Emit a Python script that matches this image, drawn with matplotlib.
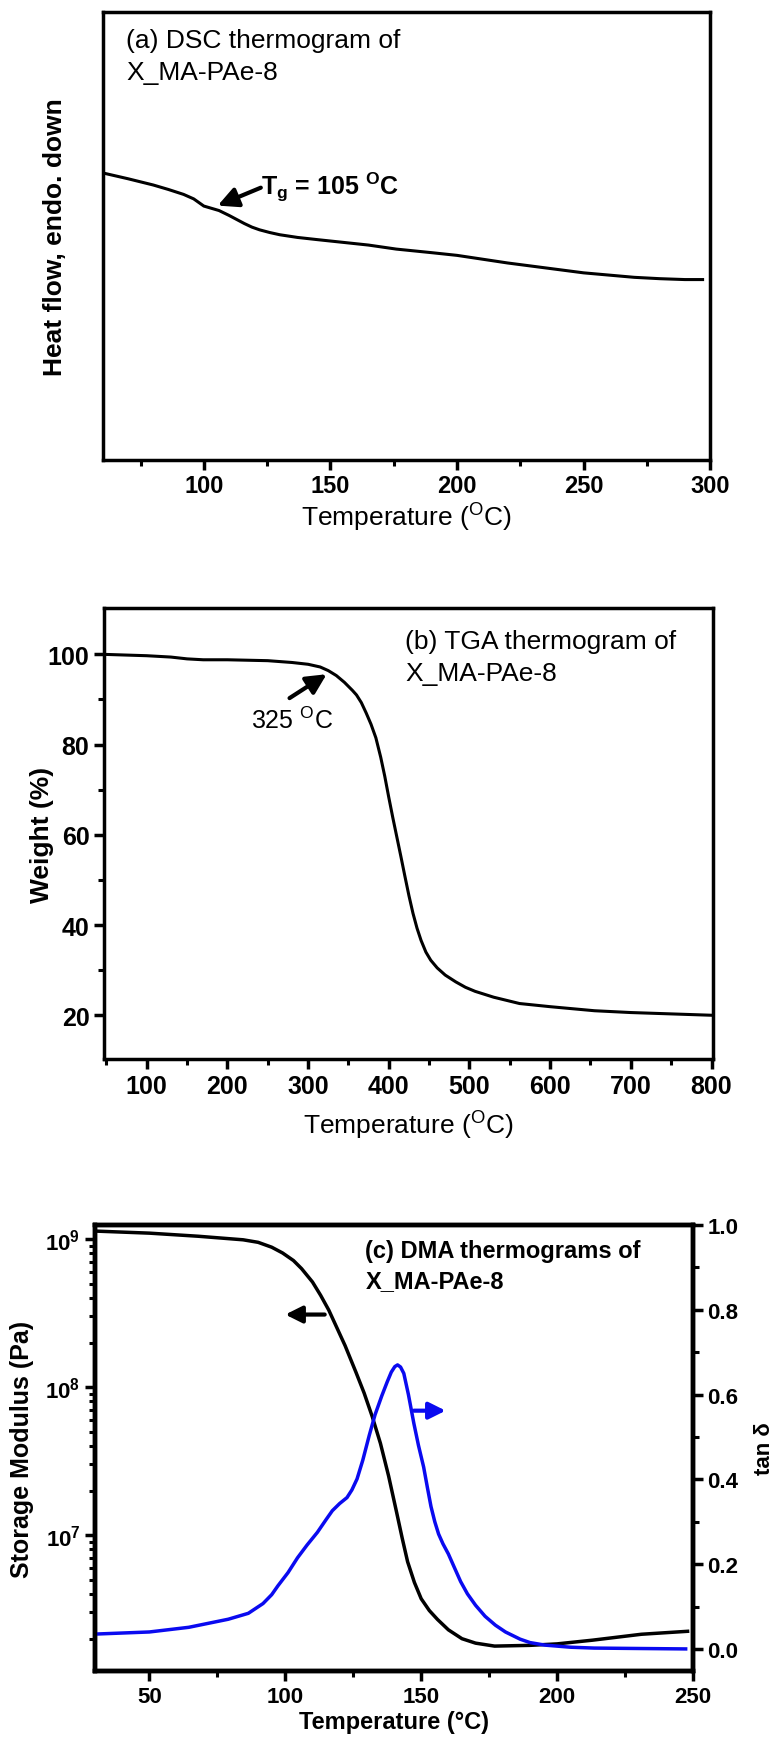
import matplotlib
matplotlib.use('Agg')
import numpy as np
from matplotlib import pyplot as plt
from matplotlib.ticker import MultipleLocator, FixedLocator, LogLocator, NullFormatter

# === data ===
# (a) DSC: temperature (C) and heat flow (arbitrary units, 0-1 of the frame)
dsc_temp = [60, 70, 80, 86, 92, 96, 98, 100, 103, 106, 110, 113, 116, 119, 122, 126, 130,
            137, 145, 150, 165, 176, 190, 200, 210, 220, 235, 250, 262, 270, 280, 290, 297]
dsc_flow = [0.640, 0.627, 0.613, 0.603, 0.592, 0.582, 0.574, 0.566, 0.561, 0.556, 0.545,
            0.536, 0.527, 0.519, 0.513, 0.507, 0.502, 0.496, 0.491, 0.488, 0.479, 0.470,
            0.462, 0.456, 0.4475, 0.439, 0.428, 0.417, 0.411, 0.407, 0.404, 0.402, 0.402]

# (b) TGA: temperature (C) and weight (%)
tga_temp = [47, 100, 130, 150, 170, 200, 250, 280, 300, 315, 325, 335, 345, 355, 360, 366,
            372, 378, 384, 390, 395, 400, 405, 410, 415, 420, 425, 430, 435, 440, 446, 452,
            460, 470, 483, 495, 507, 530, 562, 600, 655, 700, 750, 800]
tga_weight = [100, 99.7, 99.4, 99.0, 98.8, 98.8, 98.6, 98.2, 97.8, 97.2, 96.4, 95.3, 93.8,
              92.0, 91.0, 89.3, 87.0, 84.5, 81.5, 77.2, 73.0, 68.3, 63.8, 59.5, 55.2, 50.8,
              46.5, 42.6, 39.3, 36.6, 34.0, 32.2, 30.5, 28.9, 27.4, 26.2, 25.3, 24.0, 22.6,
              21.9, 21.0, 20.6, 20.3, 20.0]

# (c) DMA: storage modulus (log10 Pa) and tan delta
dma_temp_e = [30, 50, 68, 84.5, 90, 95, 99, 103, 106, 110, 113, 116, 119, 122, 126, 129,
              132, 135, 138, 141, 143, 145, 147.5, 150, 153, 156, 160, 165, 170, 177, 190,
              200, 213, 231, 248]
dma_log_e = [9.054, 9.04, 9.019, 8.995, 8.978, 8.945, 8.906, 8.855, 8.80, 8.71, 8.62, 8.52,
             8.40, 8.28, 8.10, 7.96, 7.80, 7.62, 7.40, 7.15, 6.98, 6.82, 6.68, 6.57, 6.49,
             6.43, 6.36, 6.30, 6.27, 6.25, 6.255, 6.265, 6.29, 6.33, 6.35]
storage_modulus = [10 ** v for v in dma_log_e]

dma_temp_tan = [30, 50, 64.5, 79, 86.4, 91.8, 95, 97.3, 101, 104.5, 108, 111.8, 115, 117.3,
                120, 122.7, 124.5, 126.4, 128.5, 130.9, 133, 135.5, 137.5, 139, 140.3, 141.3,
                142.4, 143.6, 145.3, 147.3, 149, 150.9, 152.3, 153.6, 155, 156.4, 158, 160,
                162, 164.5, 167, 170, 173.5, 177.3, 181, 186.4, 190, 195.5, 205, 213.6, 230,
                247.3]
tan_delta = [0.035, 0.040, 0.051, 0.070, 0.084, 0.107, 0.128, 0.149, 0.180, 0.215, 0.245,
             0.275, 0.305, 0.326, 0.343, 0.357, 0.375, 0.401, 0.445, 0.504, 0.552, 0.597,
             0.630, 0.653, 0.666, 0.670, 0.665, 0.650, 0.600, 0.532, 0.480, 0.429, 0.380,
             0.336, 0.300, 0.271, 0.248, 0.224, 0.195, 0.159, 0.130, 0.103, 0.077, 0.056,
             0.040, 0.023, 0.015, 0.009, 0.004, 0.002, 0.001, 0.0]

NARROW = ['Liberation Sans Narrow', 'Liberation Sans', 'DejaVu Sans']
ARIAL = ['Liberation Sans', 'DejaVu Sans']
plt.rcParams['mathtext.fontset'] = 'custom'
plt.rcParams['mathtext.rm'] = 'Liberation Sans'

fig = plt.figure(figsize=(7.77, 17.40), dpi=100)


def style_ticks(ax, labelsize, family, weight='normal', sw=2.5):
    for s in ax.spines.values():
        s.set_linewidth(sw)
    ax.tick_params(which='major', direction='out', length=7, width=2.5, labelsize=labelsize)
    ax.tick_params(which='minor', direction='out', length=4, width=2.2)
    for lab in ax.get_xticklabels() + ax.get_yticklabels():
        lab.set_family(family)
        lab.set_weight(weight)


def arrow(ax, head, tail, color='k', ms=24):
    ax.annotate('', xy=head, xytext=tail,
                arrowprops=dict(arrowstyle='-|>,head_length=0.5,head_width=0.25', lw=3,
                                color=color, mutation_scale=ms, shrinkA=0, shrinkB=0))


# ---- (a) DSC ----
ax1 = fig.add_axes([0.132, 0.7352, 0.782, 0.2576])
ax1.plot(dsc_temp, dsc_flow, color='k', lw=2.2)
ax1.set_xlim(60, 300)
ax1.set_ylim(0, 1)
ax1.set_yticks([])
ax1.xaxis.set_major_locator(MultipleLocator(50))
ax1.xaxis.set_minor_locator(MultipleLocator(25))
style_ticks(ax1, 17, NARROW, 'bold')
ax1.set_xlabel('Temperature ($\\mathregular{^O}$C)', family=NARROW, fontsize=19)
ax1.xaxis.set_label_coords(0.5, -0.128)
ax1.xaxis.label.set_va('center')
ax1.set_ylabel('Heat flow, endo. down', family=ARIAL, fontsize=19, weight='bold')
ax1.yaxis.set_label_coords(-0.079, 0.5)
ax1.yaxis.label.set_va('center')
ax1.text(0.039, 0.936, '(a) DSC thermogram of', transform=ax1.transAxes, family=NARROW,
         fontsize=19, va='center', ha='left')
ax1.text(0.039, 0.865, 'X_MA-PAe-8', transform=ax1.transAxes, family=NARROW,
         fontsize=19, va='center', ha='left')
ax1.text(122.5, 0.61, 'T$\\mathregular{_g}$ = 105 $\\mathregular{^O}$C', family=NARROW,
         fontsize=18, weight='bold', va='center', ha='left')
arrow(ax1, (105.5, 0.567), (122.5, 0.607))

# ---- (b) TGA ----
ax2 = fig.add_axes([0.1338, 0.3908, 0.784, 0.259])
ax2.plot(tga_temp, tga_weight, color='k', lw=2.2)
ax2.set_xlim(47, 802)
ax2.set_ylim(10.3, 110.2)
ax2.xaxis.set_major_locator(MultipleLocator(100))
ax2.xaxis.set_minor_locator(MultipleLocator(50))
ax2.yaxis.set_major_locator(FixedLocator([20, 40, 60, 80, 100]))
ax2.yaxis.set_minor_locator(FixedLocator([30, 50, 70, 90]))
style_ticks(ax2, 18, NARROW, 'bold')
ax2.set_xlabel('Temperature ($\\mathregular{^O}$C)', family=NARROW, fontsize=19)
ax2.xaxis.set_label_coords(0.5, -0.146)
ax2.xaxis.label.set_va('center')
ax2.set_ylabel('Weight (%)', family=ARIAL, fontsize=19, weight='bold')
ax2.yaxis.set_label_coords(-0.102, 0.5)
ax2.yaxis.label.set_va('center')
ax2.text(420, 0.927, '(b) TGA thermogram of', transform=ax2.get_xaxis_transform(),
         family=NARROW, fontsize=19, va='center', ha='left')
ax2.text(420, 0.856, 'X_MA-PAe-8', transform=ax2.get_xaxis_transform(),
         family=NARROW, fontsize=19, va='center', ha='left')
arrow(ax2, (323, 95.6), (277, 90.3))
ax2.text(280, 85.5, '325 $\\mathregular{^O}$C', family=NARROW, fontsize=18,
         va='center', ha='center')

# ---- (c) DMA ----
ax3 = fig.add_axes([0.1223, 0.0391, 0.7696, 0.2563])
ax3r = ax3.twinx()
ax3.plot(dma_temp_e, storage_modulus, color='k', lw=2.5)
ax3r.plot(dma_temp_tan, tan_delta, color='#0a0af0', lw=2.5)
ax3.set_xlim(30, 250)
ax3.set_yscale('log')
ax3.set_ylim(10 ** 6.082, 10 ** 9.095)
ax3r.set_ylim(-0.052, 1.0)
ax3.xaxis.set_major_locator(MultipleLocator(50))
ax3.xaxis.set_minor_locator(MultipleLocator(25))
ax3.yaxis.set_major_locator(FixedLocator([1e7, 1e8, 1e9]))
ax3.set_yticklabels(['$\\mathregular{10^{7}}$', '$\\mathregular{10^{8}}$', '$\\mathregular{10^{9}}$'])
ax3.yaxis.set_minor_locator(LogLocator(base=10, subs=np.arange(2, 10)))
ax3.yaxis.set_minor_formatter(NullFormatter())
ax3r.set_yticks([0.0, 0.2, 0.4, 0.6, 0.8, 1.0])
ax3r.set_yticklabels(['0.0', '0.2', '0.4', '0.6', '0.8', '1.0'])
ax3r.yaxis.set_minor_locator(MultipleLocator(0.1))
style_ticks(ax3, 16, ARIAL, 'bold', sw=3.2)
style_ticks(ax3r, 16, ARIAL, 'bold', sw=3.2)
ax3.set_xlabel('Temperature (°C)', family=ARIAL, fontsize=17, weight='bold')
ax3.xaxis.set_label_coords(0.5, -0.114)
ax3.xaxis.label.set_va('center')
ax3.set_ylabel('Storage Modulus (Pa)', family=ARIAL, fontsize=18, weight='bold')
ax3.yaxis.set_label_coords(-0.122, 0.5)
ax3.yaxis.label.set_va('center')
ax3r.set_ylabel('tan δ', family=ARIAL, fontsize=16, weight='bold')
ax3r.yaxis.set_label_coords(1.12, 0.5)
ax3r.yaxis.label.set_va('center')
ax3.text(0.452, 0.942, '(c) DMA thermograms of', transform=ax3.transAxes, family=ARIAL,
         fontsize=17, weight='bold', va='center', ha='left')
ax3.text(0.452, 0.875, 'X_MA-PAe-8', transform=ax3.transAxes, family=ARIAL,
         fontsize=17, weight='bold', va='center', ha='left')
arrow(ax3, (100, 10 ** 8.49), (114.5, 10 ** 8.49), ms=20)
arrow(ax3r, (159, 0.562), (147.3, 0.562), color='#0a0af0', ms=20)

fig.savefig('out.png', dpi=100)
